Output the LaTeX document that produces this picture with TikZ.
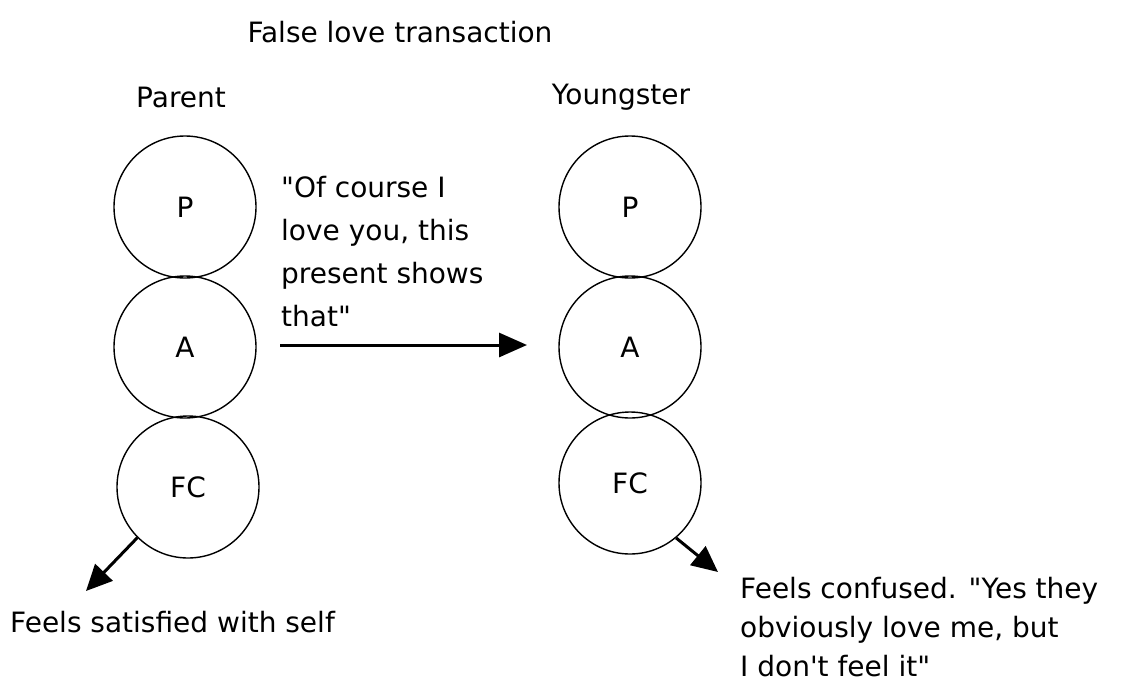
\documentclass[tikz,border=0pt]{standalone}
\usepackage{fontspec}
\setmainfont{DejaVu Sans}
\usetikzlibrary{arrows.meta}
\begin{document}
\begin{tikzpicture}[x=1pt,y=-1pt,
  ego/.style={circle,draw,line width=1.4pt,minimum size=142pt,inner sep=0pt},
  lbl/.style={font=\fontsize{28}{43}\selectfont},
  txt/.style={font=\fontsize{28}{43}\selectfont,align=left,anchor=north west,inner sep=0pt},
  big/.style={line width=3pt,-{Triangle[length=28pt,width=24pt]}},
  small/.style={line width=3pt,-{Triangle[length=26pt,width=24pt]}}]
\useasboundingbox (0,0) rectangle (1130,686);
\node[lbl] (title) at (400,32) {False love transaction};
\node[lbl] (parent) at (181,97) {Parent};
\node[lbl] (young) at (621,97) {Youngster};
\node[ego] (pP) at (185,207) {};
\node[lbl] at (pP) {P};
\node[ego] (pA) at (185,347) {};
\node[lbl] at (pA) {A};
\node[ego] (pF) at (188,487) {};
\node[lbl] at (pF) {FC};
\node[ego] (yP) at (630,207) {};
\node[lbl] at (yP) {P};
\node[ego] (yA) at (630,347) {};
\node[lbl] at (yA) {A};
\node[ego] (yF) at (630,483) {};
\node[lbl] at (yF) {FC};
\node[txt] (quote) at (281,176) {\textquotedbl Of course I\\love you, this\\present shows\\that\textquotedbl};
\coordinate (as) at (280,345);
\coordinate (ae) at (527,345);
\draw[big] (as) -- (ae);
\coordinate (lt) at (86,591);
\draw[small] (pF.{225}) -- (lt);
\coordinate (rt) at (718,572);
\draw[small] (yF.{-50}) -- (rt);
\node[txt] (sat) at (10,611) {Feels satisfied with self};
\node[txt,font=\fontsize{28}{39}\selectfont] (conf) at (740,577) {Feels confused. \textquotedbl Yes they\\obviously love me, but\\I don\textquotesingle t feel it\textquotedbl};
\end{tikzpicture}
\end{document}
